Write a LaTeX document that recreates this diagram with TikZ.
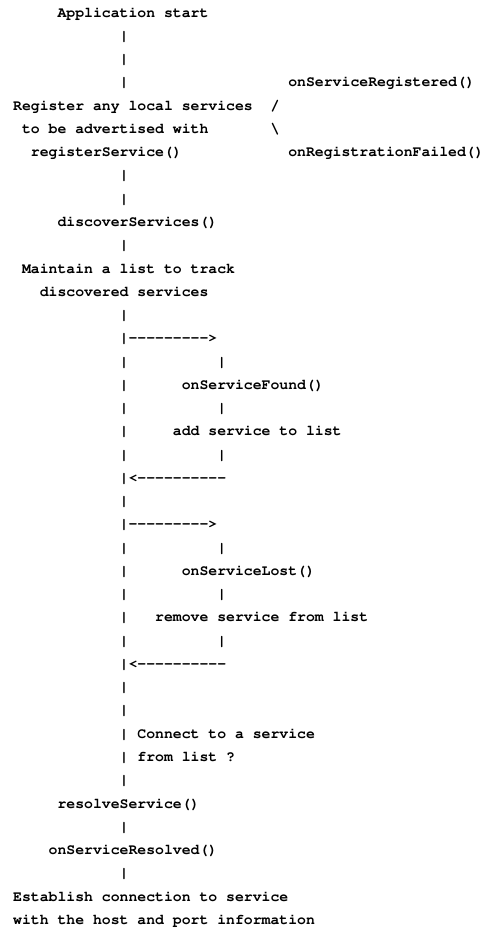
\documentclass[tikz,border=0pt]{standalone}
\usepackage[T1]{fontenc}
\usepackage{tikz}

\begin{document}
\begin{tikzpicture}[x=8.88pt,y=-23.27pt,
  txt/.style={anchor=mid west,inner sep=0pt,font=\fontfamily{pcr}\fontseries{b}\fontsize{14.8}{18}\selectfont}]
\useasboundingbox (-1.464,-0.645) rectangle (53.04,39.38);
% main column of bars
\foreach \r in {1,2,3,7,8,10,13,15,16,17,18,19,21,23,24,25,26,27,29,30,31,32,33,35,37}
  \node[txt] (bar\r) at (12,\r) {|};
% bars of the callbacks
\foreach \r in {15,17,19,23,25,27}
  \node[txt] (sub\r) at (23,\r) {|};

\node[txt] (start) at (5,0) {Application start};
\node[txt] (okcb) at (31,3) {onServiceRegistered()};
\node[txt] (reg1) at (0,4) {Register any local services};
\node[txt] (slash) at (29,4) {/};
\node[txt] (reg2) at (1,5) {to be advertised with};
\node[txt] (bslash) at (29,5) {\textbackslash};
\node[txt] (reg3) at (2,6) {registerService()};
\node[txt] (failcb) at (31,6) {onRegistrationFailed()};
\node[txt] (disc) at (5,9) {discoverServices()};
\node[txt] (list1) at (1,11) {Maintain a list to track};
\node[txt] (list2) at (3,12) {discovered services};

\node[txt] (out1) at (12,14) {|-{}-{}-{}-{}-{}-{}-{}-{}->};
\node[txt] (found) at (19,16) {onServiceFound()};
\node[txt] (add) at (18,18) {add service to list};
\node[txt] (back1) at (12,20) {|<-{}-{}-{}-{}-{}-{}-{}-{}-{}-};

\node[txt] (out2) at (12,22) {|-{}-{}-{}-{}-{}-{}-{}-{}->};
\node[txt] (lost) at (19,24) {onServiceLost()};
\node[txt] (remove) at (16,26) {remove service from list};
\node[txt] (back2) at (12,28) {|<-{}-{}-{}-{}-{}-{}-{}-{}-{}-};

\node[txt] (conn1) at (14,31) {Connect to a service};
\node[txt] (conn2) at (14,32) {from list ?};
\node[txt] (resolve) at (5,34) {resolveService()};
\node[txt] (resolved) at (4,36) {onServiceResolved()};
\node[txt] (est1) at (0,38) {Establish connection to service};
\node[txt] (est2) at (0,39) {with the host and port information};
\end{tikzpicture}
\end{document}
